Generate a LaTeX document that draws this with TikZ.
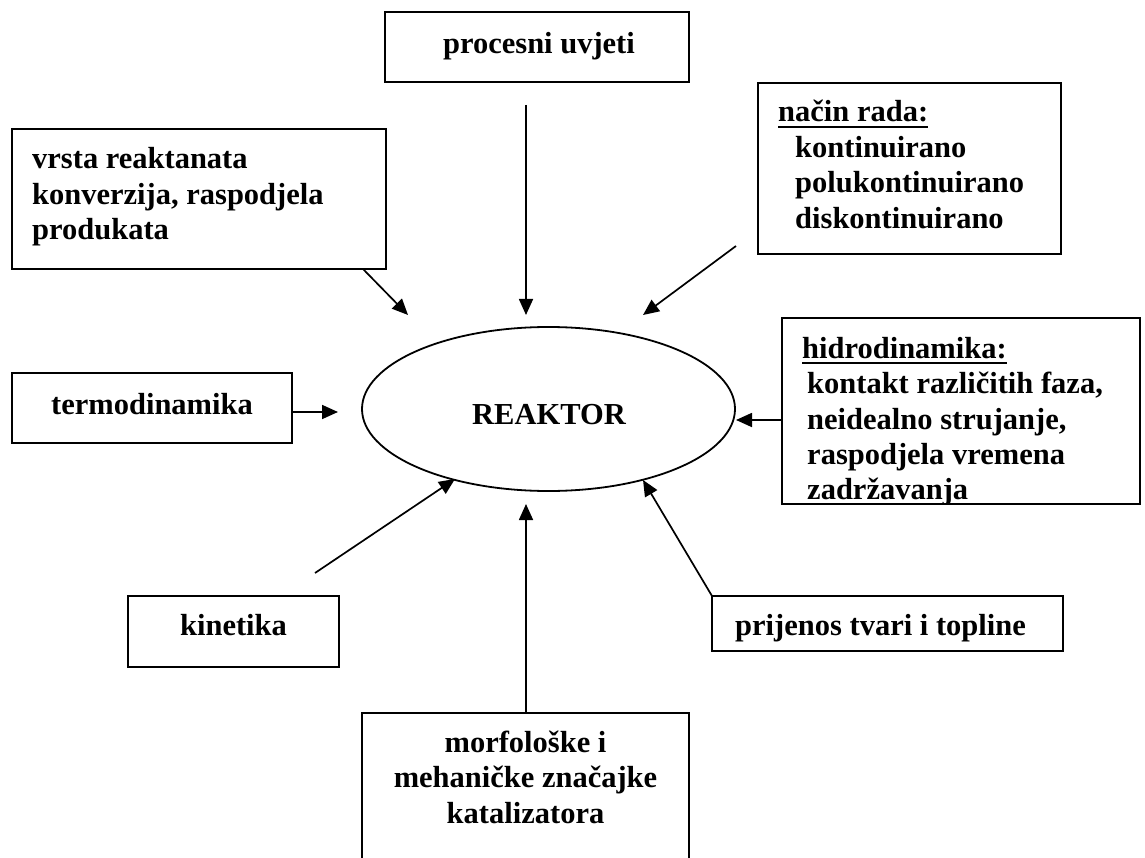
\documentclass[tikz,border=0pt]{standalone}
\usepackage{fontspec}
\setmainfont{Liberation Serif}
\usetikzlibrary{shapes.geometric,arrows.meta}
\newcommand\myul[1]{\setbox0\hbox{#1}\rlap{\rule[-6.3pt]{\wd0}{2.4pt}}\box0}
\begin{document}
\begin{tikzpicture}[x=1pt,y=-1pt,
  box/.style={draw,line width=2pt,inner sep=0pt,rectangle},
  lbl/.style={inner sep=0pt,font=\bfseries\fontsize{30.5}{35.5}\selectfont},
  arr/.style={line width=1.7pt,-{Triangle[length=16pt,width=14pt]}}]
\clip (0,0) rectangle (1145,858);
\fill[white] (0,0) rectangle (1145,858);
% boxes
\node[box,minimum width=304pt,minimum height=70pt] (proc) at (537,47) {};
\node[box,minimum width=374pt,minimum height=140pt] (vrsta) at (199,199) {};
\node[box,minimum width=303pt,minimum height=171pt] (nacin) at (909.5,168.5) {};
\node[box,minimum width=280pt,minimum height=70pt] (termo) at (152,408) {};
\node[box,minimum width=358pt,minimum height=186pt] (hidro) at (961,411) {};
\node[box,minimum width=211pt,minimum height=71pt] (kin) at (233.5,631.5) {};
\node[box,minimum width=351pt,minimum height=55pt] (prij) at (887.5,623.5) {};
\node[box,minimum width=327pt,minimum height=187pt] (morf) at (525.5,806.5) {};
\node[draw,ellipse,line width=1.8pt,inner sep=0pt,minimum width=373pt,minimum height=164pt] (reak) at (548.5,409) {};
% texts
\node[lbl,anchor=base] (tproc) at (539,54) {procesni uvjeti};
\node[lbl,anchor=base west] (tvrsta) at (32,169) {\begin{tabular}[t]{@{}l@{}}vrsta reaktanata\\konverzija, raspodjela\\produkata\end{tabular}};
\node[lbl,anchor=base west] (tnacin) at (778,122) {\begin{tabular}[t]{@{}l@{}}\myul{način rada:}\\\hspace*{17pt}kontinuirano\\\hspace*{17pt}polukontinuirano\\\hspace*{17pt}diskontinuirano\end{tabular}};
\node[lbl,anchor=base] (ttermo) at (152,414) {termodinamika};
\begin{scope}
\clip (782,318) rectangle (1140,504);
\node[lbl,anchor=base west] (thidro) at (802,358) {\begin{tabular}[t]{@{}l@{}}\myul{hidrodinamika:}\\\hspace*{5pt}kontakt različitih faza,\\\hspace*{5pt}neidealno strujanje,\\\hspace*{5pt}raspodjela vremena\\\hspace*{5pt}zadržavanja\end{tabular}};
\end{scope}
\node[lbl,anchor=base] (tkin) at (233.5,635) {kinetika};
\node[lbl,anchor=base] (tprij) at (880.5,635) {prijenos tvari i topline};
\node[lbl,anchor=base] (tmorf) at (525.5,752) {\begin{tabular}[t]{@{}c@{}}morfološke i\\mehaničke značajke\\katalizatora\end{tabular}};
\node[lbl,anchor=base] (treak) at (549,424) {REAKTOR};
% arrow end points
\coordinate (procS) at (526,105);  \coordinate (procE) at (526,315);
\coordinate (vrstaS) at (363,269); \coordinate (vrstaE) at (408,315);
\coordinate (nacinS) at (736,246); \coordinate (nacinE) at (643,315);
\coordinate (termoS) at (292,412); \coordinate (termoE) at (338,412);
\coordinate (hidroS) at (782,420); \coordinate (hidroE) at (736,420);
\coordinate (kinS) at (315,573);   \coordinate (kinE) at (455,479);
\coordinate (morfS) at (526,713);  \coordinate (morfE) at (526,504);
\coordinate (prijS) at (712,596);  \coordinate (prijE) at (643,480);
% arrows
\draw[arr] (procS) -- (procE);
\draw[arr] (vrstaS) -- (vrstaE);
\draw[arr] (nacinS) -- (nacinE);
\draw[arr] (termoS) -- (termoE);
\draw[arr] (hidroS) -- (hidroE);
\draw[arr] (kinS) -- (kinE);
\draw[arr] (morfS) -- (morfE);
\draw[arr] (prijS) -- (prijE);
\end{tikzpicture}
\end{document}
